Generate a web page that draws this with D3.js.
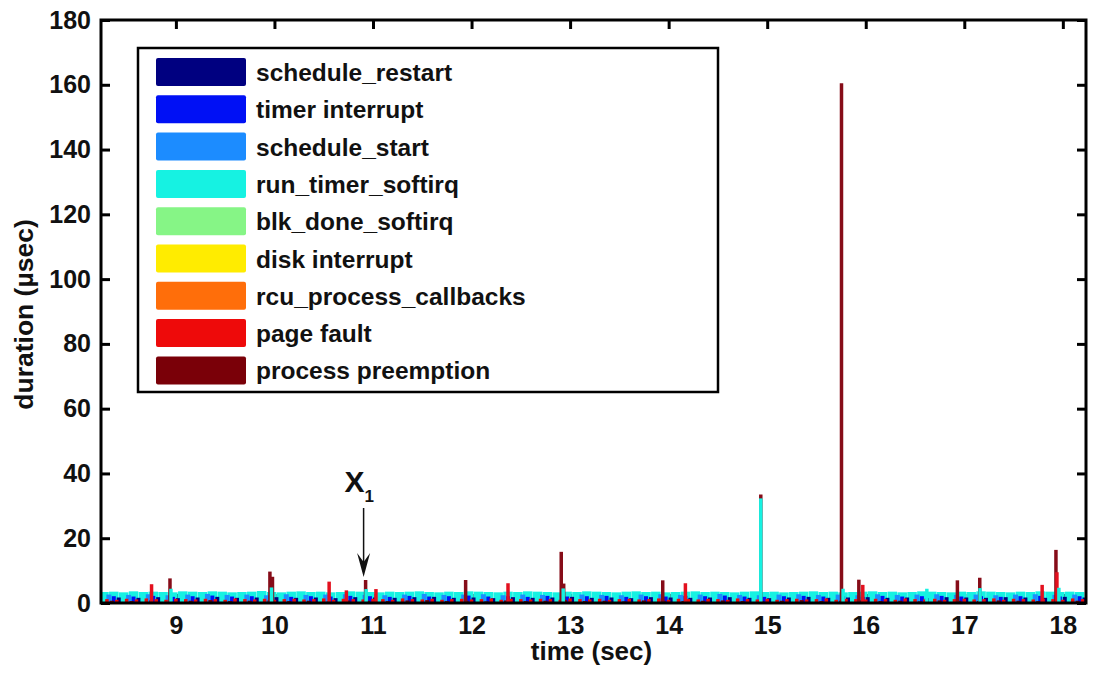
<!DOCTYPE html>
<html>
<head>
<meta charset="utf-8">
<script src="https://cdn.jsdelivr.net/npm/d3@7"></script>
<style>
  html, body { margin: 0; padding: 0; background: #fff; }
  svg { display: block; font-family: "Liberation Sans", Arial, sans-serif; font-weight: bold; }
</style>
</head>
<body>
<svg id="chart" width="1096" height="674"></svg>
<script>
// Event categories, in legend order, with their colours
const categories = [
  "schedule_restart", "timer interrupt", "schedule_start", "run_timer_softirq",
  "blk_done_softirq", "disk interrupt", "rcu_process_callbacks", "page fault", "process preemption"
];
const colors = [
  "#000080", "#0010f5", "#1c8cff", "#16f2e2",
  "#86f586", "#ffec00", "#ff6e0a", "#ee0a0a", "#7a0008"
];

// Axis ticks
const xTicks = [9, 10, 11, 12, 13, 14, 15, 16, 17, 18];
const yTicks = [0, 20, 40, 60, 80, 100, 120, 140, 160, 180];
const xRange = [8.24, 18.235];
const yRange = [0, 180];

// Routine (periodic) activity: first event time, period (sec), durations (usec)
const runTimerStart = 8.27, runTimerPeriod = 0.1;
const runTimerDurations = [
  3.4,3.5,3.3,3.6,3.4,3.5,3.4,3.3,3.6,3.5, 3.4,3.6,3.5,3.3,3.4,3.5,3.7,3.4,3.3,3.5,
  3.6,3.4,3.5,3.3,3.4,3.6,3.5,3.4,3.3,3.5, 3.4,3.5,3.6,3.4,3.3,3.5,3.4,3.6,3.5,3.4,
  3.3,3.5,3.4,3.6,3.5,3.4,3.3,3.5,3.4,3.6, 3.5,3.4,3.3,3.5,3.6,3.4,3.5,3.3,3.4,3.5,
  3.6,3.4,3.5,3.4,3.3,3.5,3.6,3.4,3.5,3.3, 3.4,3.5,3.6,3.4,3.5,3.3,3.4,3.5,3.6,3.4,
  3.5,3.3,3.4,3.6,3.5,3.4,3.3,3.5,3.4,3.6, 3.5,3.4,3.3,3.5,3.4,3.6,3.5,3.4,3.5,3.4
];
const scheduleStartStart = 8.32, scheduleStartPeriod = 0.2;
const scheduleStartDurations = [
  2.6,2.5,2.7,2.4,2.6,2.8,2.5,2.6,2.4,2.7, 2.5,2.6,2.7,2.5,2.4,2.6,2.8,2.5,2.6,2.7,
  2.4,2.6,2.5,2.7,2.6,2.5,2.4,2.6,2.7,2.5, 2.6,2.8,2.5,2.4,2.6,2.7,2.5,2.6,2.4,2.7,
  2.5,2.6,2.7,2.5,2.6,2.4,2.6,2.7,2.5,2.6
];
const timerIrqStart = 8.37, timerIrqPeriod = 0.2;
const timerIrqDurations = [
  2.1,2.0,2.2,1.9,2.1,2.3,2.0,2.1,2.2,1.9, 2.1,2.0,2.2,2.1,1.9,2.2,2.0,2.1,2.3,2.0,
  2.1,1.9,2.2,2.0,2.1,2.2,1.9,2.1,2.0,2.2, 2.1,2.3,2.0,1.9,2.1,2.2,2.0,2.1,1.9,2.2,
  2.0,2.1,2.2,2.0,2.1,1.9,2.1,2.2,2.0,2.1
];
const scheduleRestartStart = 8.42, scheduleRestartPeriod = 0.2;
const scheduleRestartDurations = [
  1.7,1.6,1.8,1.5,1.7,1.9,1.6,1.7,1.8,1.6, 1.7,1.5,1.8,1.7,1.6,1.8,1.9,1.6,1.7,1.5,
  1.8,1.6,1.7,1.9,1.6,1.7,1.5,1.8,1.7,1.6, 1.7,1.8,1.6,1.5,1.7,1.9,1.6,1.7,1.8,1.6,
  1.7,1.5,1.8,1.7,1.6,1.8,1.7,1.6,1.9,1.7
];
const pageFaultStart = 8.30, pageFaultPeriod = 0.1;
const pageFaultDurations = [
  1.2,1.0,1.3,1.1,1.4,1.2,1.0,1.3,1.2,1.1, 1.3,1.2,1.0,1.4,1.2,1.1,1.3,1.0,1.2,1.3,
  1.1,1.2,1.4,1.0,1.3,1.2,1.1,1.3,1.2,1.0, 1.4,1.2,1.1,1.3,1.0,1.2,1.3,1.1,1.2,1.4,
  1.0,1.3,1.2,1.1,1.3,1.2,1.0,1.4,1.2,1.1, 1.3,1.0,1.2,1.3,1.1,1.2,1.4,1.0,1.3,1.2,
  1.1,1.3,1.2,1.0,1.4,1.2,1.1,1.3,1.0,1.2, 1.3,1.1,1.2,1.4,1.0,1.3,1.2,1.1,1.3,1.2,
  1.0,1.4,1.2,1.1,1.3,1.0,1.2,1.3,1.1,1.2, 1.4,1.0,1.3,1.2,1.1,1.3,1.2,1.0,1.4,1.2
];
const preemptStart = 8.35, preemptPeriod = 0.2;
const preemptDurations = [
  0.7,0.6,0.8,0.5,0.7,0.9,0.6,0.7,0.8,0.6, 0.7,0.5,0.8,0.7,0.6,0.8,0.9,0.6,0.7,0.5,
  0.8,0.6,0.7,0.9,0.6,0.7,0.5,0.8,0.7,0.6, 0.7,0.8,0.6,0.5,0.7,0.9,0.6,0.7,0.8,0.6,
  0.7,0.5,0.8,0.7,0.6,0.8,0.7,0.6,0.9,0.7
];
// Rare softirq / disk activity: [time (sec), duration (usec)]
const blkDoneEvents = [[9.41, 1.8], [12.66, 1.9], [16.28, 1.7]];
const diskIrqEvents = [[9.43, 1.5], [12.68, 1.6], [16.30, 1.4]];
const rcuEvents = [[8.84, 1.6], [11.52, 1.7], [13.47, 1.5], [16.77, 1.6]];

// Outliers: [time (sec), duration (usec)]
const preemptSpikes = [
  [8.94, 7.6], [9.954, 9.7], [9.98, 8.1], [10.925, 7.1], [11.94, 7.1],
  [12.91, 15.8], [12.935, 6.0], [13.94, 7.0], [14.935, 33.5], [15.754, 160.5],
  [15.93, 7.2], [16.93, 7.0], [17.157, 7.8], [17.93, 16.4]
];
const pageFaultSpikes = [
  [8.753, 5.8], [10.555, 6.6], [10.73, 3.9], [11.03, 4.3], [12.37, 6.1],
  [14.17, 6.1], [15.97, 5.6], [17.79, 5.6], [17.94, 9.5]
];
const runTimerSpikes = [
  [8.95, 4.4], [9.97, 4.8], [10.93, 4.3], [12.93, 4.5], [14.935, 32.3],
  [15.77, 4.4], [16.62, 4.4], [17.16, 4.6], [17.96, 4.7]
];

// Annotated event
const annotTime = 10.925, annotValue = 7.1;

// ---- layout ----
const svg = d3.select("#chart");
const plot = { left: 101, right: 1086, top: 20, bottom: 603 };

const x = d3.scaleLinear().domain(xRange).range([plot.left, plot.right]);
const y = d3.scaleLinear().domain(yRange).range([plot.bottom, plot.top]);

svg.append("defs").append("clipPath").attr("id", "plotClip")
  .append("rect")
  .attr("x", plot.left).attr("y", plot.top)
  .attr("width", plot.right - plot.left).attr("height", plot.bottom - plot.top);

// Ticks sit under the data (inward on all four sides)
const tickLen = 9;
function styleAxis(g) {
  g.select(".domain").remove();
  g.selectAll(".tick line").attr("stroke", "#000").attr("stroke-width", 3);
  g.selectAll(".tick text").attr("fill", "#111").attr("font-size", 25)
    .attr("font-family", "'Liberation Sans', Arial, sans-serif").attr("font-weight", "bold");
}
svg.append("g").attr("transform", `translate(${plot.left},0)`)
  .call(d3.axisLeft(y).tickValues(yTicks).tickSizeInner(-tickLen).tickSizeOuter(0).tickPadding(10))
  .call(styleAxis);
svg.append("g").attr("transform", `translate(${plot.right},0)`)
  .call(d3.axisRight(y).tickValues(yTicks).tickSizeInner(-tickLen).tickSizeOuter(0).tickFormat(""))
  .call(styleAxis);
svg.append("g").attr("transform", `translate(0,${plot.bottom})`)
  .call(d3.axisBottom(x).tickValues(xTicks).tickSizeInner(-tickLen).tickSizeOuter(0).tickPadding(13))
  .call(styleAxis);
svg.append("g").attr("transform", `translate(0,${plot.top})`)
  .call(d3.axisTop(x).tickValues(xTicks).tickSizeInner(-tickLen).tickSizeOuter(0).tickFormat(""))
  .call(styleAxis);

// ---- events drawn as stems from zero ----
const dataLayer = svg.append("g").attr("clip-path", "url(#plotClip)");

function periodic(start, period, durations) {
  return durations.map((v, i) => [start + i * period, v]);
}
function stems(events, color, width) {
  dataLayer.append("g").selectAll("line").data(events).join("line")
    .attr("x1", d => x(d[0])).attr("x2", d => x(d[0]))
    .attr("y1", y(0)).attr("y2", d => y(d[1]))
    .attr("stroke", color).attr("stroke-width", width);
}

stems(blkDoneEvents, colors[4], 3);
stems(diskIrqEvents, colors[5], 3);
stems(rcuEvents, colors[6], 3);
stems(periodic(runTimerStart, runTimerPeriod, runTimerDurations), colors[3], 9.5);
stems(periodic(scheduleStartStart, scheduleStartPeriod, scheduleStartDurations), colors[2], 5);
stems(periodic(timerIrqStart, timerIrqPeriod, timerIrqDurations), colors[1], 4);
stems(periodic(scheduleRestartStart, scheduleRestartPeriod, scheduleRestartDurations), colors[0], 4);
stems(periodic(pageFaultStart, pageFaultPeriod, pageFaultDurations), colors[7], 3.5);
stems(periodic(preemptStart, preemptPeriod, preemptDurations), colors[8], 4);

stems(preemptSpikes, "#860c18", 3.5);
stems(pageFaultSpikes, "#e3101e", 3.5);
stems(runTimerSpikes, colors[3], 3.5);

// Axes frame on top
svg.append("rect")
  .attr("x", plot.left).attr("y", plot.top)
  .attr("width", plot.right - plot.left).attr("height", plot.bottom - plot.top)
  .attr("fill", "none").attr("stroke", "#000").attr("stroke-width", 3);

// Axis titles
svg.append("text")
  .attr("x", (plot.left + plot.right) / 2 - 2).attr("y", 660)
  .attr("text-anchor", "middle").attr("font-size", 26).attr("fill", "#111")
  .text("time (sec)");
svg.append("text")
  .attr("transform", `translate(33,${(plot.top + plot.bottom) / 2 + 3}) rotate(-90)`)
  .attr("text-anchor", "middle").attr("font-size", 26.5).attr("fill", "#111")
  .text("duration (\u00b5sec)");

// ---- legend ----
const legend = svg.append("g");
legend.append("rect")
  .attr("x", 138).attr("y", 48).attr("width", 580).attr("height", 344)
  .attr("fill", "#fff").attr("stroke", "#000").attr("stroke-width", 2.5);
const rowY = i => 72 + i * 37.3;
legend.selectAll("rect.sw").data(categories).join("rect")
  .attr("class", "sw")
  .attr("x", 156).attr("y", (d, i) => rowY(i) - 14)
  .attr("width", 90).attr("height", 28).attr("rx", 2)
  .attr("fill", (d, i) => colors[i]);
legend.selectAll("text").data(categories).join("text")
  .attr("x", 256).attr("y", (d, i) => rowY(i) + 9)
  .attr("font-size", 24.5).attr("fill", "#111")
  .text(d => d);

// ---- annotation arrow ----
const ax = x(annotTime) - 2;
const tipY = y(annotValue) - 3;
const ann = svg.append("g");
ann.append("line")
  .attr("x1", ax).attr("x2", ax).attr("y1", tipY - 69).attr("y2", tipY - 12)
  .attr("stroke", "#111").attr("stroke-width", 1.5);
ann.append("path")
  .attr("d", `M${ax},${tipY} L${ax - 6.5},${tipY - 24} L${ax},${tipY - 15} L${ax + 6.5},${tipY - 24} Z`)
  .attr("fill", "#111");
const lbl = ann.append("text").attr("x", ax - 19).attr("y", tipY - 85)
  .attr("font-size", 30).attr("fill", "#111");
lbl.append("tspan").text("X");
lbl.append("tspan").attr("font-size", 17).attr("dy", 10).text("1");
</script>
</body>
</html>
